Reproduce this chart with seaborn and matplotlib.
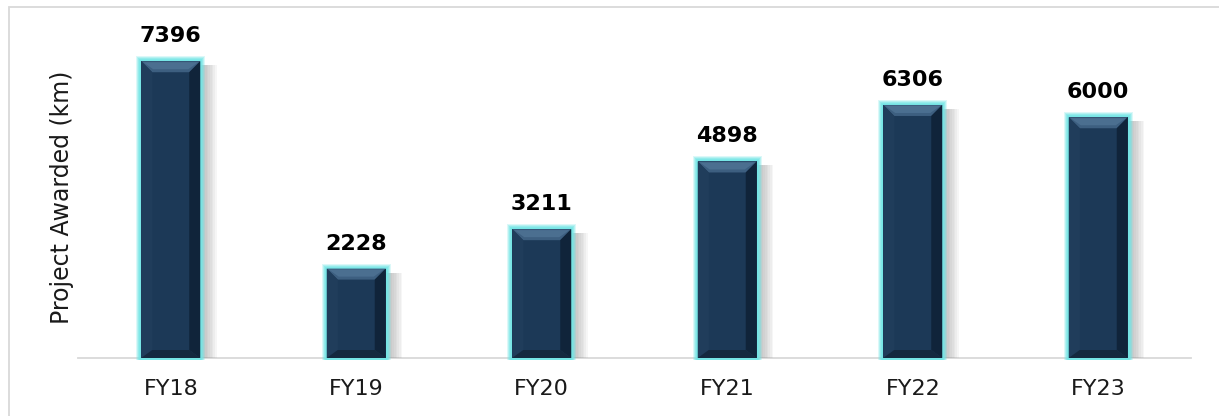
import matplotlib
matplotlib.use("Agg")
import matplotlib.pyplot as plt
import seaborn as sns
import pandas as pd
from matplotlib.patches import Rectangle, Polygon

categories = ["FY18", "FY19", "FY20", "FY21", "FY22", "FY23"]
values = [7396, 2228, 3211, 4898, 6306, 6000]
y_label = "Project Awarded (km)"

df = pd.DataFrame({"year": categories, "km": values})

sns.set_theme(style="white")
plt.rcParams["font.family"] = ["DejaVu Sans"]

W, H = 1219, 416
fig = plt.figure(figsize=(W / 100, H / 100), dpi=100)
ax_left, ax_right, ax_bot, ax_top = 78, 1191, 358, 37
ax = fig.add_axes([ax_left / W, (H - ax_bot) / H, (ax_right - ax_left) / W, (ax_bot - ax_top) / H])

face = "#1c3957"
sns.barplot(data=df, x="year", y="km", ax=ax, color=face, width=0.318,
            saturation=1, edgecolor="none", linewidth=0, zorder=3)
ax.set_xlim(-0.5, len(categories) - 0.5)
ax.set_ylim(0, 8000)

# pixel -> data conversion
px_x = (len(categories)) / (ax_right - ax_left)
px_y = 8000 / (ax_bot - ax_top)

for p in list(ax.patches):
    x0, w, h = p.get_x(), p.get_width(), p.get_height()
    x1 = x0 + w
    # soft shadow to the right
    for i in range(8):
        off = (i + 1) * 1.7
        ax.add_patch(Rectangle((x0 + 3 * px_x, 0), w + off * px_x, h - 4 * px_y,
                               facecolor="#8f8f8f", alpha=0.08, edgecolor="none", zorder=1,
                               clip_on=False))
    # cyan glow
    for i in range(5):
        e = (5 - i)
        ax.add_patch(Rectangle((x0 - e * px_x, -2 * px_y), w + 2 * e * px_x, h + (e + 2) * px_y,
                               facecolor="#74e6e6", alpha=0.25 + 0.12 * i, edgecolor="none",
                               zorder=2, clip_on=False))
    b = 11  # bevel px
    bx, by = b * px_x, b * px_y
    # top bevel (lighter)
    ax.add_patch(Polygon([(x0, h), (x1, h), (x1 - bx, h - by), (x0 + bx, h - by)],
                         closed=True, facecolor="#3d5f80", edgecolor="none", zorder=4))
    ax.add_patch(Polygon([(x0 + 2 * px_x, h - 1 * px_y), (x1 - 2 * px_x, h - 1 * px_y),
                          (x1 - bx - 1 * px_x, h - by + 3 * px_y), (x0 + bx + 1 * px_x, h - by + 3 * px_y)],
                         closed=True, facecolor="#557a9c", alpha=0.6, edgecolor="none", zorder=4))
    # right bevel (darker)
    ax.add_patch(Polygon([(x1, h), (x1, 0), (x1 - bx, 8 * px_y), (x1 - bx, h - by)],
                         closed=True, facecolor="#10243a", edgecolor="none", zorder=4))
    # left bevel (slightly lighter)
    ax.add_patch(Polygon([(x0, h), (x0, 0), (x0 + bx, 8 * px_y), (x0 + bx, h - by)],
                         closed=True, facecolor="#203d5b", edgecolor="none", zorder=4))
    # bottom bevel (dark)
    ax.add_patch(Polygon([(x0, 0), (x1, 0), (x1 - bx, 8 * px_y), (x0 + bx, 8 * px_y)],
                         closed=True, facecolor="#14293f", edgecolor="none", zorder=4))
    # value label
    ax.text(x0 + w / 2, h + 25 * px_y, f"{int(h)}", ha="center", va="center",
            fontsize=16, fontweight="bold", color="black", zorder=5, clip_on=False)

for s in ["left", "top", "right"]:
    ax.spines[s].set_visible(False)
ax.spines["bottom"].set_color("#d9d9d9")
ax.spines["bottom"].set_linewidth(1.3)
ax.spines["bottom"].set_zorder(0)
ax.set_yticks([])
ax.set_xlabel("")
ax.set_ylabel(y_label, fontsize=17, color="#1a1a1a", labelpad=3)
ax.tick_params(axis="x", length=0, pad=15, labelsize=16, labelcolor="#1a1a1a")
ax.set_facecolor("none")
fig.patch.set_facecolor("white")

fig.patches.append(Rectangle((9 / W, -0.1), 1.2, (H - 7) / H + 0.1, transform=fig.transFigure,
                             fill=False, edgecolor="#d9d9d9", linewidth=1.3))

fig.savefig("out.png", dpi=100)
